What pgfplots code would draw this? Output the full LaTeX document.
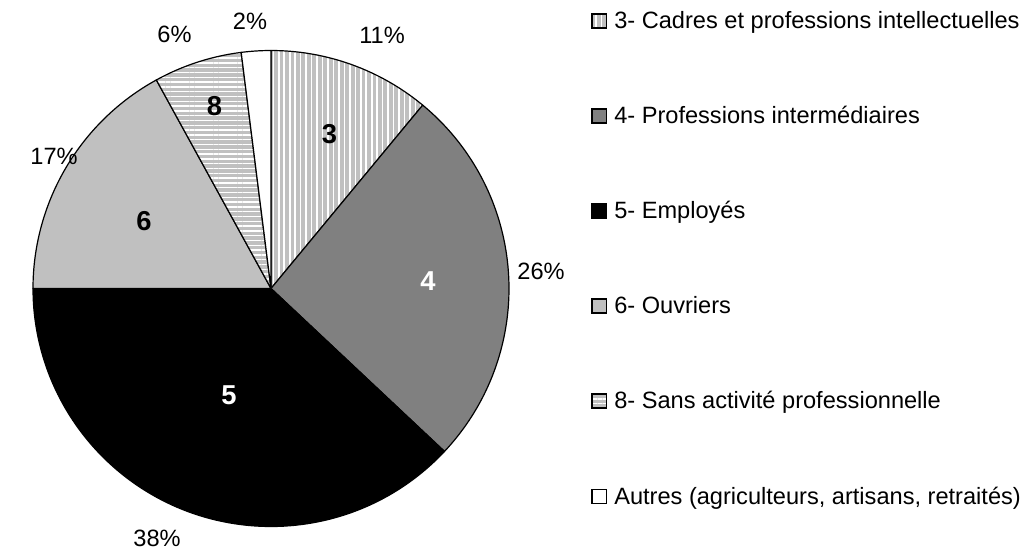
\documentclass[border=0pt]{standalone}
\usepackage{fontspec}
\setmainfont{Liberation Sans}
\usepackage{pgfplots}
\pgfplotsset{compat=1.18}
\usetikzlibrary{patterns.meta}

\definecolor{pgray}{HTML}{C0C0C0}
\definecolor{dgray}{HTML}{808080}

\newcommand{\R}{178.5pt}% 238 px

\tikzset{
  vstripes/.style={pattern={Lines[angle=90,distance=4.1pt,line width=1.2pt]},pattern color=white},
  hstripes/.style={pattern={Lines[angle=0,distance=3.6pt,line width=1.1pt]},pattern color=white},
  nostripes/.style={},
}

% #1 cumulative start (percent), #2 value (percent), #3 fill colour, #4 overlay style
\newcommand{\slice}[4]{%
  \fill[#3] (axis cs:271,288.5) -- ++({90-3.6*#1}:\R) arc[start angle={90-3.6*#1}, delta angle={-3.6*#2}, radius=\R] -- cycle;
  \path[#4] (axis cs:271,288.5) -- ++({90-3.6*#1}:\R) arc[start angle={90-3.6*#1}, delta angle={-3.6*#2}, radius=\R] -- cycle;
  \draw[black,line width=0.9pt,line join=round] (axis cs:271,288.5) -- ++({90-3.6*#1}:\R) arc[start angle={90-3.6*#1}, delta angle={-3.6*#2}, radius=\R] -- cycle;
}
% legend swatch: #1 baseline y, #2 fill, #3 overlay
\newcommand{\swatch}[3]{%
  \fill[#2] (axis cs:592,#1-14.5) rectangle (axis cs:606.5,#1-0.5);
  \path[#3] (axis cs:592,#1-14.5) rectangle (axis cs:606.5,#1-0.5);
  \draw[black,line width=0.8pt] (axis cs:592,#1-14.5) rectangle (axis cs:606.5,#1-0.5);
}

\begin{document}
\begin{tikzpicture}[font=\fontsize{17.7pt}{21pt}\selectfont]
\begin{axis}[
  hide axis, scale only axis,
  width=769.5pt, height=413.25pt,
  xmin=0, xmax=1026, ymin=0, ymax=551,
  y dir=reverse, clip=false,
]
\path (axis cs:0,0) rectangle (axis cs:1026,551);

% slices: start, value
\slice{0}{11}{pgray}{vstripes}
\slice{11}{26}{dgray}{nostripes}
\slice{37}{38}{black}{nostripes}
\slice{75}{17}{pgray}{nostripes}
\slice{92}{6}{pgray}{hstripes}
\slice{98}{2}{white}{nostripes}

% percentage labels
\node[inner sep=0] at (axis cs:382,35) {11\%};
\node[inner sep=0] at (axis cs:541,271) {26\%};
\node[inner sep=0] at (axis cs:157,538) {38\%};
\node[inner sep=0] at (axis cs:54,156) {17\%};
\node[inner sep=0] at (axis cs:174.5,34) {6\%};
\node[inner sep=0] at (axis cs:250,21.5) {2\%};

% slice numbers
\node[inner sep=0,font=\fontsize{20.5pt}{24pt}\selectfont\bfseries] at (axis cs:329.5,134) {3};
\node[inner sep=0,font=\fontsize{20.5pt}{24pt}\selectfont\bfseries,text=white] at (axis cs:428,281) {4};
\node[inner sep=0,font=\fontsize{20.5pt}{24pt}\selectfont\bfseries,text=white] at (axis cs:229,395) {5};
\node[inner sep=0,font=\fontsize{20.5pt}{24pt}\selectfont\bfseries] at (axis cs:144,221) {6};
\node[inner sep=0,font=\fontsize{20.5pt}{24pt}\selectfont\bfseries] at (axis cs:214.5,106) {8};

% legend
\swatch{28.5}{pgray}{vstripes}
\swatch{123.5}{dgray}{nostripes}
\swatch{218.5}{black}{nostripes}
\swatch{313.5}{pgray}{nostripes}
\swatch{408.5}{pgray}{hstripes}
\swatch{504}{white}{nostripes}
\node[anchor=base west,inner sep=0] at (axis cs:614,28.5) {3- Cadres et professions intellectuelles};
\node[anchor=base west,inner sep=0] at (axis cs:614,123.5) {4- Professions intermédiaires};
\node[anchor=base west,inner sep=0] at (axis cs:614,218.5) {5- Employés};
\node[anchor=base west,inner sep=0] at (axis cs:614,313.5) {6- Ouvriers};
\node[anchor=base west,inner sep=0] at (axis cs:614,408.5) {8- Sans activité professionnelle};
\node[anchor=base west,inner sep=0] at (axis cs:614,504) {Autres (agriculteurs, artisans, retraités)};
\end{axis}
\end{tikzpicture}
\end{document}
